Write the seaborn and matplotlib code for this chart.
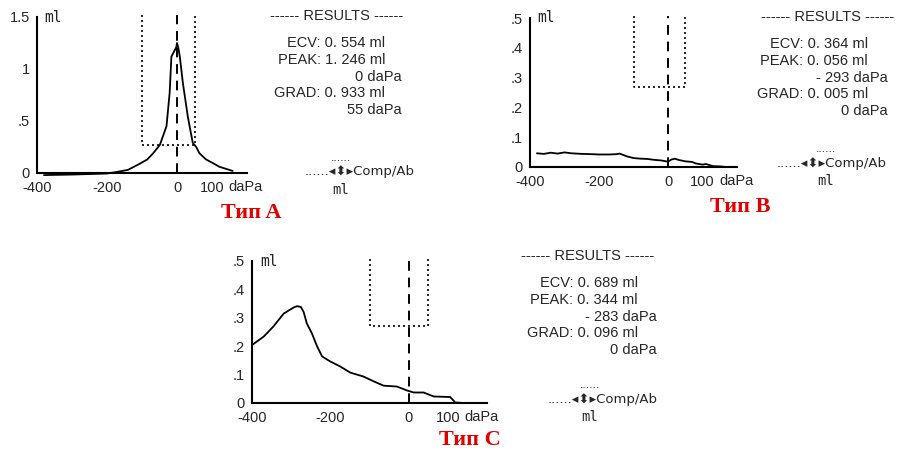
import matplotlib
matplotlib.use("Agg")
import matplotlib.pyplot as plt
import seaborn as sns

# tympanogram curves (pressure daPa, compliance ml)
pressure_a = [-380, -300, -250, -200, -172, -140, -106, -85, -68, -49, -30, -21, -16,
              -8, -2, 0, 4, 8, 17, 24, 31, 45, 55, 64, 83, 100, 121, 140, 159]
volume_a = [-0.02, -0.015, -0.01, -0.005, 0.01, 0.03, 0.09, 0.13, 0.19, 0.27, 0.45, 0.77, 1.12,
            1.17, 1.21, 1.25, 1.2, 1.12, 0.86, 0.7, 0.54, 0.29, 0.25, 0.19, 0.13, 0.1, 0.06, 0.04, 0.02]

pressure_b = [-380, -360, -340, -320, -300, -280, -250, -220, -200, -170, -150, -140, -120,
              -100, -80, -60, -40, -20, 0, 10, 20, 30, 50, 70, 80, 100, 110, 130, 150, 170]
volume_b = [0.046, 0.044, 0.048, 0.045, 0.049, 0.046, 0.044, 0.043, 0.042, 0.042, 0.043, 0.045, 0.036,
            0.03, 0.028, 0.027, 0.024, 0.022, 0.018, 0.025, 0.028, 0.024, 0.019, 0.017, 0.012, 0.008,
            0.01, 0.003, 0.002, 0.0]

pressure_c = [-400, -370, -345, -319, -294, -285, -275, -268, -260, -247, -234, -221, -200,
              -174, -149, -115, -89, -64, -30, -4, 13, 38, 64, 106, 119, 140, 166]
volume_c = [0.204, 0.234, 0.27, 0.315, 0.336, 0.341, 0.338, 0.32, 0.28, 0.245, 0.2, 0.164, 0.146,
            0.128, 0.107, 0.093, 0.076, 0.061, 0.058, 0.044, 0.037, 0.037, 0.023, 0.021, 0.002, 0.0, 0.0]

# normal region box drawn by the device
normal_lo, normal_hi, normal_floor = -100, 50, 0.27

x_ticks = [-400, -300, -200, -100, 0, 100, 200]
x_labels = ["-400", "", "-200", "", "0", "100", ""]
yticks_a = [0, 0.5, 1, 1.5]
ylabels_a = ["0", ".5", "1", "1.5"]
yticks_bc = [0, 0.1, 0.2, 0.3, 0.4, 0.5]
ylabels_bc = ["0", ".1", ".2", ".3", ".4", ".5"]

results_a = ["ECV: 0. 554 ml", "PEAK: 1. 246 ml", "0 daPa", "GRAD: 0. 933 ml", "55 daPa"]
results_b = ["ECV: 0. 364 ml", "PEAK: 0. 056 ml", "- 293 daPa", "GRAD: 0. 005 ml", "0 daPa"]
results_c = ["ECV: 0. 689 ml", "PEAK: 0. 344 ml", "- 283 daPa", "GRAD: 0. 096 ml", "0 daPa"]
type_labels = ["Тип A", "Тип B", "Тип C"]

W, H = 905, 453
sns.set_style("white")
plt.rcParams["font.family"] = ["Liberation Sans", "DejaVu Sans"]

fig = plt.figure(figsize=(W / 100, H / 100), dpi=100)
fig.patch.set_facecolor("white")

PRN = ["Liberation Sans", "DejaVu Sans"]


def fx(px):
    return px / W


def fy(py):
    return 1 - py / H


def make_axes(left, right, y0, ytop):
    return fig.add_axes([fx(left), fy(y0), (right - left) / W, (y0 - ytop) / H])


def draw_panel(ax, x, y, ytop, yticks, ylabels):
    sns.lineplot(x=x, y=y, ax=ax, color="black", linewidth=1.3,
                 estimator=None, sort=False, legend=False)
    for ln in ax.get_lines():
        ln.set_clip_on(False)
    ax.set_xlim(-400, 200)
    ax.set_ylim(0, ytop)
    # normal region (open dotted box) and dashed 0 daPa marker
    ax.plot([normal_lo, normal_lo, normal_hi, normal_hi],
            [ytop * 1.015, normal_floor, normal_floor, ytop * 1.015],
            color="black", linestyle=(0, (1.2, 1.8)), linewidth=1.2, clip_on=False)
    ax.plot([0, 0], [0, ytop * 1.015], color="black", linestyle=(0, (5, 3.5)),
            linewidth=1.4, clip_on=False)
    for s in ["top", "right"]:
        ax.spines[s].set_visible(False)
    for s in ["left", "bottom"]:
        ax.spines[s].set_linewidth(1.5)
        ax.spines[s].set_color("black")
    ax.set_xticks(x_ticks)
    ax.set_xticklabels(x_labels)
    ax.set_yticks(yticks)
    ax.set_yticklabels(ylabels)
    ax.tick_params(axis="x", direction="in", length=3, width=1.2, pad=6, labelsize=10.5)
    ax.tick_params(axis="y", direction="out", length=3, width=1.2, pad=2, labelsize=10.5)
    ax.set_xlabel("")
    ax.set_ylabel("")
    ax.annotate("daPa", xy=(100, 0), xycoords=("data", "axes fraction"),
                xytext=(12, -10), textcoords="offset points", ha="left", va="center",
                fontsize=10.5)
    ax.text(0.035, 1.0, "ml", transform=ax.transAxes, ha="left", va="center",
            fontsize=10.5, fontfamily="DejaVu Sans Mono")
    ax.set_facecolor("white")


def draw_results(cx, top, ml_end, dapa_end, rows):
    fig.text(fx(cx), fy(top), "------ RESULTS ------", ha="center", va="center",
             fontsize=10.5, family=PRN)
    ys = [top + 27, top + 44, top + 61, top + 77, top + 94]
    ends = [ml_end, ml_end, dapa_end, ml_end, dapa_end]
    for txt, yy, xe in zip(rows, ys, ends):
        fig.text(fx(xe), fy(yy), txt, ha="right", va="center", fontsize=10.5, family=PRN)


def draw_comp(x_end, icon_x, cy):
    # status line under the results: ......◂⬍▸Comp/Ab with "ml" below
    fig.text(fx(icon_x), fy(cy - 14), "......", ha="center", va="center", fontsize=9)
    fig.text(fx(x_end), fy(cy), "......◂⬍▸Comp/Ab", ha="right", va="center",
             fontsize=9.5, family=["DejaVu Sans"])
    fig.text(fx(icon_x), fy(cy + 18), "ml", ha="center", va="center", fontsize=10,
             fontfamily="DejaVu Sans Mono")


ax_a = make_axes(37, 247, 173, 17)
draw_panel(ax_a, pressure_a, volume_a, 1.5, yticks_a, ylabels_a)
ax_b = make_axes(530, 737, 167, 18)
draw_panel(ax_b, pressure_b, volume_b, 0.5, yticks_bc, ylabels_bc)
ax_c = make_axes(252, 487, 403, 261)
draw_panel(ax_c, pressure_c, volume_c, 0.5, yticks_bc, ylabels_bc)

draw_results(337, 16, 385, 402, results_a)
draw_results(828, 17, 868, 888, results_b)
draw_results(588, 256, 638, 657, results_c)

draw_comp(415, 341, 172)
draw_comp(887, 826, 163)
draw_comp(658, 590, 399)

red = "#e00000"
for (cx, cy), lab in zip([(251, 213), (740, 207), (470, 440)], type_labels):
    fig.text(fx(cx), fy(cy), lab, ha="center", va="center", fontsize=16,
             fontweight="bold", color=red, family=["Liberation Serif", "DejaVu Serif"])

fig.savefig("out.png", dpi=100, facecolor="white")
